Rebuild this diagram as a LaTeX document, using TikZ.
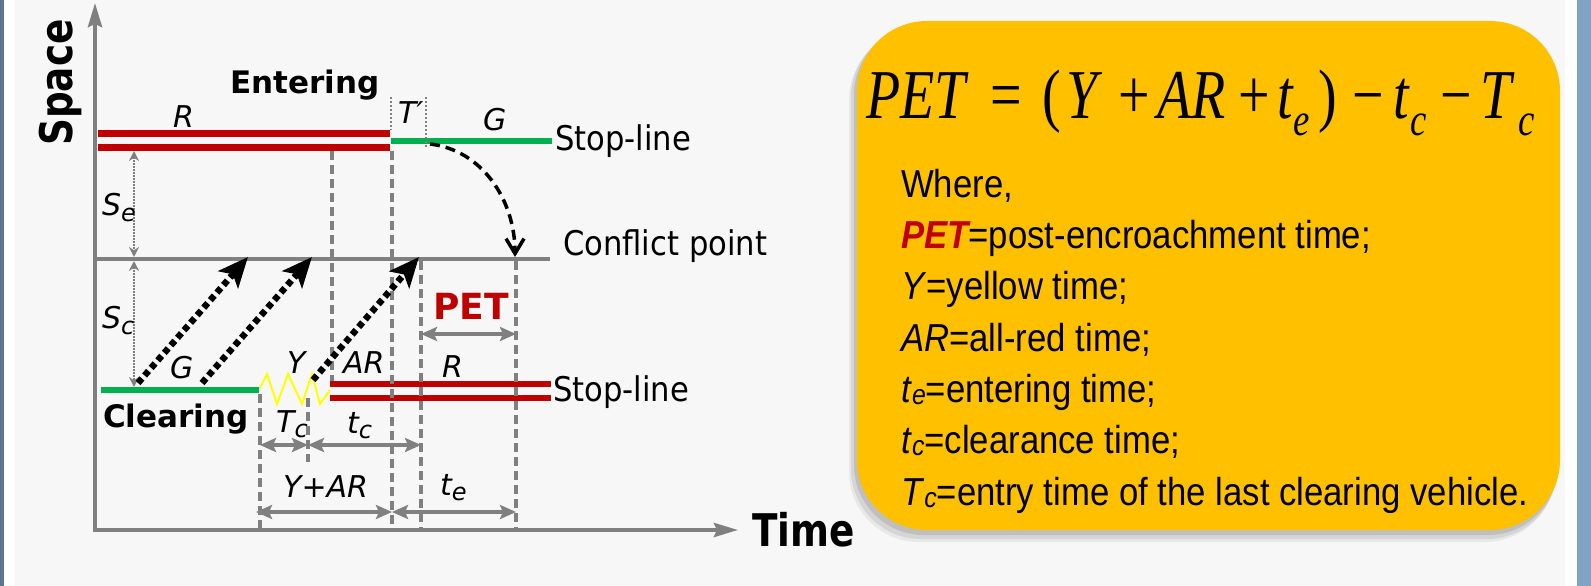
\documentclass[tikz,border=0pt]{standalone}
\usepackage{fontspec}
\usetikzlibrary{arrows.meta}
\newfontfamily\dvs{DejaVu Sans}
\newfontfamily\dvn[FakeStretch=0.9]{DejaVu Sans}
\newfontfamily\dvbn[FakeStretch=0.83]{DejaVu Sans}
\newfontfamily\arn[FakeStretch=0.89]{Liberation Sans}
\newfontfamily\tms[FakeStretch=0.8]{Liberation Serif}
\newcommand\setfs[1]{\fontsize{#1}{#1}\selectfont}
\definecolor{bgc}{HTML}{F7F7F7}
\definecolor{redc}{HTML}{C00000}
\definecolor{grnc}{HTML}{00B050}
\definecolor{axg}{HTML}{808080}
\definecolor{boxc}{HTML}{FFC000}
\definecolor{lstrip}{HTML}{5E7790}
\definecolor{rstrip}{HTML}{80A3C6}
\definecolor{zig}{HTML}{FFFF00}
\begin{document}
\begin{tikzpicture}[x=1pt,y=-1pt,
  axisline/.style={draw=axg,line width=4pt,-{Stealth[length=24pt,width=14pt,inset=3pt]}},
  redline/.style={draw=redc,line width=6.5pt},
  grnline/.style={draw=grnc,line width=6.5pt},
  vdash/.style={draw=axg,line width=4pt,dash pattern=on 9pt off 5pt},
  vdot/.style={draw=axg,line width=1.5pt,dash pattern=on 2pt off 2pt},
  dimarr/.style={draw=axg,line width=3.5pt,{Stealth[length=16pt,width=14pt,inset=3pt]}-{Stealth[length=16pt,width=14pt,inset=3pt]}},
  sarr/.style={draw=axg,line width=2pt,dash pattern=on 2pt off 1pt,{Stealth[length=10pt,width=10pt]}-{Stealth[length=10pt,width=10pt]}},
  vehic/.style={draw=black,line width=6.5pt,dash pattern=on 6pt off 4pt,-{Stealth[length=30pt,width=26pt,inset=7pt]}},
  curv/.style={draw=black,line width=3.5pt,dash pattern=on 10pt off 6pt,-{Straight Barb[length=15pt,width=18pt]}},
  lbl/.style={inner sep=0pt,anchor=base west},
  itl/.style={lbl,font=\dvs\itshape\setfs{30}},
  reg/.style={lbl,font=\dvn\setfs{34}},
  fm/.style={lbl,font=\tms\setfs{70}},
  fmi/.style={lbl,font=\tms\itshape\setfs{70}},
  fsub/.style={lbl,font=\tms\itshape\setfs{46}},
  lst/.style={lbl,font=\arn\setfs{39}}
]
\useasboundingbox (0,0) rectangle (1591,586);
% background
\fill[bgc] (0,0) rectangle (1591,586);
\fill[white] (4,0) rectangle (15,586);
\fill[lstrip] (0,0) rectangle (4,586);
\fill[white] (1565,0) rectangle (1577,586);
\fill[rstrip] (1577,0) rectangle (1591,586);

% coordinates
\coordinate (O) at (95,532);
\coordinate (Ytip) at (95,3);
\coordinate (Ox) at (93,530);
\coordinate (Xtip) at (738,530);

% axes
\draw[axisline] (O) -- (Ytip);
\draw[axisline] (Ox) -- (Xtip);

% top stop-line (entering)
\draw[redline] (98,133.5) -- (390,133.5);
\draw[redline] (98,147.5) -- (390,147.5);
\draw[grnline] (391,141) -- (552,141);
% conflict line
\draw[draw=axg,line width=4pt] (95,259) -- (550,259);
% lower stop-line (clearing)
\draw[grnline] (101,390) -- (259,390);
\draw[draw=zig,line width=2pt] (260,388) -- (267,374) -- (277,404) -- (288,374) -- (302,404) -- (312,374) -- (320,404) -- (330,390);
\draw[redline] (330,384) -- (551,384);
\draw[redline] (330,398) -- (551,398);

% vertical dashed guides
\coordinate (v1a) at (332,151); \coordinate (v1b) at (332,381);
\coordinate (v2a) at (392,151); \coordinate (v2b) at (392,530);
\coordinate (v3a) at (421,261); \coordinate (v3b) at (421,530);
\coordinate (v4a) at (516,261); \coordinate (v4b) at (516,532);
\coordinate (v5a) at (260,394); \coordinate (v5b) at (260,530);
\coordinate (v6a) at (308,398); \coordinate (v6b) at (308,462);
\draw[vdash] (v1a) -- (v1b);
\draw[vdash] (v2a) -- (v2b);
\draw[vdash] (v3a) -- (v3b);
\draw[vdash] (v4a) -- (v4b);
\draw[vdash] (v5a) -- (v5b);
\draw[vdash] (v6a) -- (v6b);
% T' dotted markers
\coordinate (d1a) at (391,97); \coordinate (d1b) at (391,130);
\coordinate (d2a) at (426,97); \coordinate (d2b) at (426,147);
\draw[vdot] (d1a) -- (d1b);
\draw[vdot] (d2a) -- (d2b);

% S_e / S_c arrows
\coordinate (s1) at (134,151); \coordinate (s2) at (134,257); \coordinate (s3) at (134,261); \coordinate (s4) at (134,387);
\draw[sarr] (s1) -- (s2);
\draw[sarr] (s3) -- (s4);

% vehicle trajectories
\coordinate (a1) at (138,383); \coordinate (b1) at (248,257);
\coordinate (a2) at (202,383); \coordinate (b2) at (312,257);
\coordinate (a3) at (313,380); \coordinate (b3) at (419,257);
\draw[vehic] (a1) -- (b1);
\draw[vehic] (a2) -- (b2);
\draw[vehic] (a3) -- (b3);

% curved entering arrow
\coordinate (c1) at (430,144); \coordinate (c2) at (515,257);
\draw[curv] (c1) .. controls (482,150) and (515,200) .. (c2);

% dimension arrows
\coordinate (p1) at (421,334); \coordinate (p2) at (516,334);
\draw[dimarr] (p1) -- (p2);
\coordinate (r1a) at (260,445); \coordinate (r1b) at (308,445); \coordinate (r1c) at (421,445);
\draw[dimarr] (r1a) -- (r1b);
\draw[dimarr] (r1b) -- (r1c);
\coordinate (r2a) at (256,512); \coordinate (r2b) at (392,512); \coordinate (r2c) at (516,512);
\draw[dimarr] (r2a) -- (r2b);
\draw[dimarr] (r2b) -- (r2c);

% labels
\node[lbl,font=\dvbn\bfseries\setfs{45},rotate=90] (space) at (72,146) {Space};
\node[lbl,font=\dvbn\bfseries\setfs{45}] (time) at (752,546) {Time};
\node[lbl,font=\dvs\bfseries\setfs{31}] (entering) at (230,93) {Entering};
\node[lbl,font=\dvs\bfseries\setfs{31}] (clearing) at (103,427) {Clearing};
\node[reg] (stop1) at (555,150) {Stop-line};
\node[reg] (conf) at (563,255) {Conflict point};
\node[reg] (stop2) at (553,401) {Stop-line};
\node[itl] (Rtop) at (173,127) {R};
\node[itl] (Tp) at (398,123) {T′};
\node[itl] (Gtop) at (483,130) {G};
\node[itl] (Glow) at (170,378) {G};
\node[itl] (Ylow) at (287,373) {Y};
\node[itl] (ARlow) at (343,373) {AR};
\node[itl] (Rlow) at (442,377) {R};
\node[itl] (Se) at (102,215) {S\raisebox{-6pt}{\setfs{24}e}};
\node[itl] (Sc) at (102,328) {S\raisebox{-6pt}{\setfs{24}c}};
\node[itl] (Tc) at (276,432) {T\raisebox{-5pt}{\setfs{24}c}};
\node[itl] (tc) at (347,433) {t\raisebox{-5pt}{\setfs{24}c}};
\node[itl] (YAR) at (283,497) {Y+AR};
\node[itl] (te) at (440,495) {t\raisebox{-5pt}{\setfs{24}e}};
\node[lbl,font=\dvs\bfseries\setfs{36},text=redc] (pet) at (433,319) {PET};

% formula box with soft shadow
\fill[black,opacity=0.06,rounded corners=70pt] (849,30) rectangle (1555,542);
\fill[black,opacity=0.08,rounded corners=70pt] (851,27) rectangle (1557,539);
\fill[black,opacity=0.10,rounded corners=70pt] (854,25) rectangle (1558,535);
\fill[boxc,rounded corners=70pt] (857,21) rectangle (1560,530);

% formula
\node[fmi] (f1) at (866,118) {PET};
\node[fm] (f2) at (990,118) {=};
\node[fm] (f3) at (1042,118) {(};
\node[fmi] (f4) at (1066,118) {Y};
\node[fm] (f5) at (1118,118) {+};
\node[fmi] (f6) at (1157,118) {AR};
\node[fm] (f7) at (1238,118) {+};
\node[fmi] (f8) at (1277,118) {t};
\node[fsub] (f9) at (1293,135) {e};
\node[fm] (f10) at (1318,118) {)};
\node[fm] (f11) at (1352,118) {−};
\node[fmi] (f12) at (1393,118) {t};
\node[fsub] (f13) at (1410,135) {c};
\node[fm] (f14) at (1440,118) {−};
\node[fmi] (f15) at (1480,118) {T};
\node[fsub] (f16) at (1518,135) {c};

% definitions
\node[lst] (l1) at (901,197) {Where,};
\node[lst] (l2) at (901,248.3) {{\bfseries\itshape\color{redc}PET}=post-encroachment time;};
\node[lst] (l3) at (901,299.7) {\textit{Y}=yellow time;};
\node[lst] (l4) at (901,351) {\textit{AR}=all-red time;};
\node[lst] (l5) at (901,402.3) {\textit{t}\raisebox{-2pt}{\setfs{28}\itshape e}=entering time;};
\node[lst] (l6) at (901,453.7) {\textit{t}\raisebox{-2pt}{\setfs{28}\itshape c}=clearance time;};
\node[lst] (l7) at (901,505) {\textit{T}\raisebox{-2pt}{\setfs{28}\itshape c}=entry time of the last clearing vehicle.};
\end{tikzpicture}
\end{document}
